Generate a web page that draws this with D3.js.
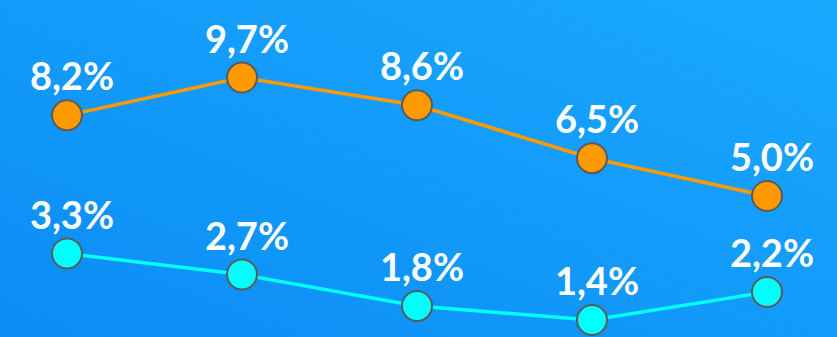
<!DOCTYPE html>
<html>
<head>
<meta charset="utf-8">
<script src="https://cdn.jsdelivr.net/npm/d3@7"></script>
<style>
  html, body { margin: 0; padding: 0; background: #119bfa; }
  svg { display: block; }
</style>
</head>
<body>
<svg id="chart" width="837" height="337"></svg>
<script>
// Periods along the horizontal axis (unlabelled in the drawing)
const periods = ["P1", "P2", "P3", "P4", "P5"];
// Upper series (orange, primary axis) and lower series (cyan, secondary axis), in percent
const upperValues = [8.2, 9.7, 8.6, 6.5, 5.0];
const lowerValues = [3.3, 2.7, 1.8, 1.4, 2.2];

const W = 837, H = 337;
const svg = d3.select("#chart");

// Diagonal background gradient
const defs = svg.append("defs");
const grad = defs.append("linearGradient")
  .attr("id", "bg").attr("x1", "0%").attr("y1", "100%").attr("x2", "100%").attr("y2", "0%");
grad.append("stop").attr("offset", "0%").attr("stop-color", "#0b8cf4");
grad.append("stop").attr("offset", "100%").attr("stop-color", "#1aa9ff");
svg.append("rect").attr("width", W).attr("height", H).attr("fill", "url(#bg)");

const x = d3.scalePoint().domain(periods).range([67, 767]);
// Each series sits on its own (hidden) value axis
const yUpper = d3.scaleLinear().domain([0, 10]).range([322, 70]);
const yLower = d3.scaleLinear().domain([0, 4]).range([369, 229]);

const fmt = v => d3.format(".1f")(v).replace(".", ",") + "%";

const series = [
  { values: upperValues, color: "#ff9900", y: yUpper },
  { values: lowerValues, color: "#00ffff", y: yLower }
];

series.forEach(s => {
  const y = s.y;
  const pts = periods.map((p, i) => ({ p, v: s.values[i] }));
  const line = d3.line().x(d => x(d.p)).y(d => y(d.v));

  svg.append("path")
    .datum(pts)
    .attr("d", line)
    .attr("fill", "none")
    .attr("stroke", s.color)
    .attr("stroke-width", 3.5);

  svg.append("g").selectAll("circle")
    .data(pts).join("circle")
    .attr("cx", d => x(d.p))
    .attr("cy", d => y(d.v))
    .attr("r", 15)
    .attr("fill", s.color)
    .attr("stroke", "#5a5a5a")
    .attr("stroke-width", 2);

  svg.append("g").selectAll("text")
    .data(pts).join("text")
    .attr("x", d => x(d.p) + 5)
    .attr("y", d => y(d.v) - 25)
    .attr("text-anchor", "middle")
    .attr("fill", "#ffffff")
    .attr("font-family", "Lato, 'Open Sans', sans-serif")
    .attr("font-weight", "bold")
    .attr("font-size", 38)
    .text(d => fmt(d.v));
});
</script>
</body>
</html>
